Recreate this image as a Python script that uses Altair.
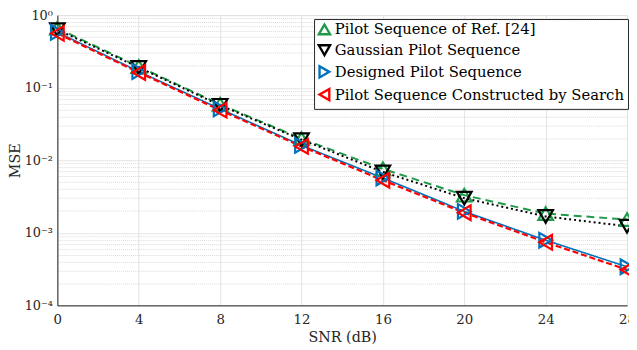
import altair as alt
import pandas as pd

snr = [0, 4, 8, 12, 16, 20, 24, 28]
series_names = [
    "Pilot Sequence of Ref. [24]",
    "Gaussian Pilot Sequence",
    "Designed Pilot Sequence",
    "Pilot Sequence Constructed by Search",
]
mse_ref24 = [0.66, 0.195, 0.059, 0.0198, 0.0076, 0.0033, 0.00184, 0.00152]
mse_gauss = [0.63, 0.19, 0.057, 0.0192, 0.0069, 0.0030, 0.00168, 0.00123]
mse_designed = [0.58, 0.167, 0.051, 0.0160, 0.0057, 0.00197, 0.00079, 0.00034]
mse_search = [0.56, 0.162, 0.049, 0.0155, 0.0053, 0.00189, 0.00074, 0.00031]

colors = ["#1f9a4a", "#000000", "#0072BD", "#FF0000"]
shapes = ["triangle-up", "triangle-down", "triangle-right", "triangle-left"]
dashes = [[8, 5], [2, 3], [1, 0], [6, 3]]
widths = [2, 2, 1.6, 2.2]

y_ticks = [m * 10.0 ** k for k in range(-4, 0) for m in range(1, 10)] + [1.0]
x_ticks = [0, 4, 8, 12, 16, 20, 24, 28]

rows = []
for name, vals in zip(series_names, [mse_ref24, mse_gauss, mse_designed, mse_search]):
    for i, (s, v) in enumerate(zip(snr, vals)):
        rows.append({"SNR": s, "MSE": v, "Series": name, "order": i})
df = pd.DataFrame(rows)

FONT = "DejaVu Serif"
is_decade = "abs(log(datum.value)/LN10 - round(log(datum.value)/LN10)) < 1e-6"

x_enc = alt.X(
    "SNR:Q",
    scale=alt.Scale(domain=[0, 28], nice=False, zero=False),
    axis=alt.Axis(
        values=x_ticks, title="SNR (dB)", grid=True, gridColor="#e3e3e3",
        gridWidth=1, ticks=False, domainColor="#262626", labelFont=FONT,
        labelFontSize=13.5, labelColor="#262626", titleFont=FONT,
        titleFontSize=14.5, titleFontWeight="normal", titleColor="#262626",
        labelPadding=7, titlePadding=5, labelFlush=False,
    ),
)
y_enc = alt.Y(
    "MSE:Q",
    scale=alt.Scale(type="log", domain=[1e-4, 1], nice=False),
    axis=alt.Axis(
        values=y_ticks, title="MSE", grid=True,
        gridColor={"condition": {"test": is_decade, "value": "#e3e3e3"}, "value": "#d9d9d9"},
        gridDash={"condition": {"test": is_decade, "value": [1, 0]}, "value": [1, 1]},
        ticks=False, domainColor="#262626", labelFont=FONT, labelFontSize=13,
        labelColor="#262626",
        labelExpr="{'1':'10⁰','0.1':'10⁻¹','0.01':'10⁻²','0.001':'10⁻³','0.0001':'10⁻⁴'}[toString(datum.value)] || ''",
        titleFont=FONT, titleFontSize=14.5, titleFontWeight="normal",
        titleColor="#262626", labelPadding=5, titlePadding=2,
    ),
)

color_enc = alt.Color(
    "Series:N",
    scale=alt.Scale(domain=series_names, range=colors),
    sort=series_names,
    legend=alt.Legend(
        title=None, orient="none", legendX=260, legendY=4,
        labelFont=FONT, labelFontSize=15, labelColor="#000000",
        strokeColor="#262626", fillColor="white", padding=3,
        rowPadding=0, symbolSize=130, symbolStrokeWidth=2.4,
        symbolOpacity=1, labelOffset=3, labelLimit=400, symbolOffset=0,
    ),
)
shape_enc = alt.Shape(
    "Series:N", scale=alt.Scale(domain=series_names, range=shapes), sort=series_names,
)

base = alt.Chart(df)
line_layers = []
for name, col, dash, w in zip(series_names, colors, dashes, widths):
    line_layers.append(
        base.transform_filter(alt.datum.Series == name)
        .mark_line(color=col, strokeDash=dash, strokeWidth=w)
        .encode(x=x_enc, y=y_enc, order="order:Q")
    )

points = base.mark_point(filled=False, size=220, strokeWidth=2.2, opacity=1).encode(
    x=x_enc, y=y_enc,
    color=color_enc,
    shape=shape_enc,
)

chart = (
    alt.layer(*line_layers, points)
    .properties(
        width=577, height=294,
        autosize=alt.AutoSizeParams(type="none"),
        padding={"left": 50, "top": 5, "right": 2, "bottom": 40},
    )
    .configure_view(stroke="#262626", strokeWidth=1)
    .configure(background="white")
)

chart.save("out.html", embed_options={"renderer": "svg", "actions": False})
